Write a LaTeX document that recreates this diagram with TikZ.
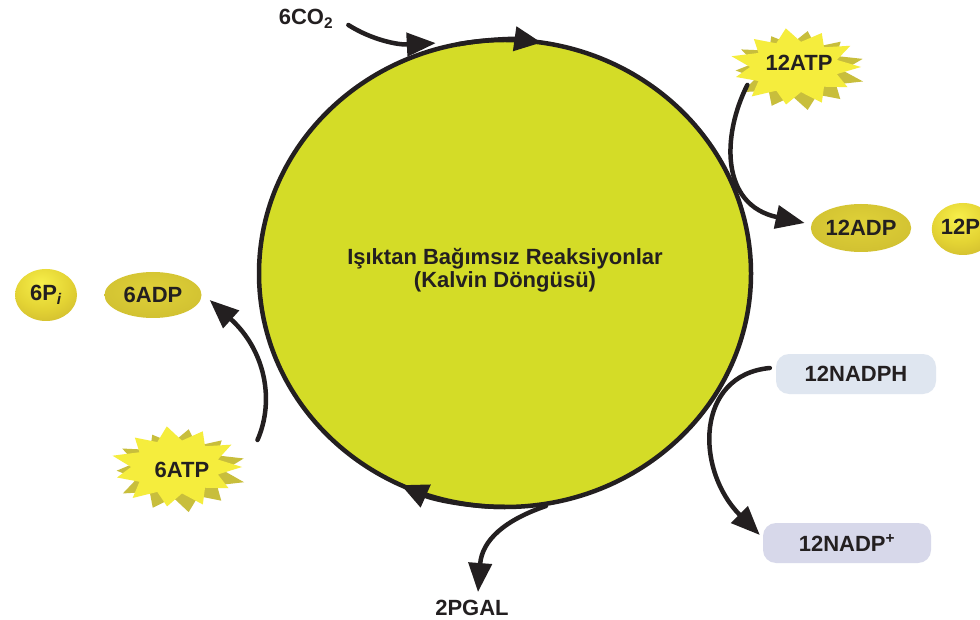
\documentclass[tikz,border=0pt]{standalone}
\usepackage{fontspec}
\setmainfont{Liberation Sans}
\usetikzlibrary{arrows.meta,shapes.geometric,calc}
\definecolor{ink}{HTML}{231F20}
\definecolor{cyclefill}{HTML}{D4DC27}
\definecolor{burstY}{HTML}{F5ED3D}
\definecolor{burstS}{HTML}{C8BE3C}
\definecolor{adpA}{HTML}{DFD138}
\definecolor{adpB}{HTML}{C2AF2A}
\definecolor{sphL}{HTML}{F7EF4A}
\definecolor{sphM}{HTML}{E4D434}
\definecolor{sphD}{HTML}{BDA42A}
\definecolor{nadphF}{HTML}{DFE6F0}
\definecolor{nadpF}{HTML}{D7D8EA}
\pgfdeclareradialshading{sphereshade}{\pgfpoint{-4bp}{12bp}}{color(0bp)=(sphL); color(22bp)=(sphM); color(52bp)=(sphD); color(90bp)=(sphD)}
\pgfdeclareradialshading{ovalshade}{\pgfpoint{0bp}{6bp}}{color(0bp)=(adpA); color(28bp)=(adpA!55!adpB); color(52bp)=(adpB); color(90bp)=(adpB)}
\def\burstpts{16/0.66, 33/0.95, 49/0.67, 66/1.0, 82/0.65, 98/0.97, 115/0.67, 131/1.0, 147/0.66, 164/0.93, 180/0.68, 196/1.0, 213/0.66, 229/0.95, 245/0.67, 262/1.0, 278/0.65, 295/0.96, 311/0.67, 327/1.0, 344/0.66}
\tikzset{
  lbl/.style={font=\fontsize{22}{23}\selectfont\bfseries, text=ink, inner sep=3pt},
  arr/.style={draw=ink, line width=4.5pt, line cap=round, -{Triangle[length=29pt,width=23pt]}},
  cyclearr/.style={draw=ink, line width=4.5pt, -{Triangle[length=27pt,width=24pt]}},
  oval/.style={lbl, ellipse, shading=ovalshade, minimum width=97pt, minimum height=48pt, inner sep=0pt},
  ballnode/.style={lbl, ellipse, shading=sphereshade, minimum width=62pt, minimum height=52pt, inner sep=0pt},
  nadbox/.style={lbl, rectangle, rounded corners=13pt, minimum height=40pt},
  burst/.pic={
    \fill[burstS, shift={(0.05,0.09)}, rotate=-16, scale=1.02] (0:1) \foreach \a/\r in \burstpts {-- (\a:\r)} -- cycle;
    \fill[burstY] (0:1) \foreach \a/\r in \burstpts {-- (\a:\r)} -- cycle;
  }
}
\begin{document}
\begin{tikzpicture}[x=1pt, y=-1pt]
\useasboundingbox (0,0) rectangle (980,620);
\clip (0,0) rectangle (980,620);
\fill[white] (0,0) rectangle (980,620);

% main cycle
\node[ellipse, draw=ink, line width=4.5pt, fill=cyclefill, minimum width=492pt, minimum height=467pt, inner sep=0pt] (calvin) at (505,273.5) {};
\node[lbl, align=center] (title) at (505,270) {Işıktan Bağımsız Reaksiyonlar\\(Kalvin Döngüsü)};
\draw[cyclearr] ($(calvin.center)+(101:246pt and 233.5pt)$) arc[start angle=101, end angle=81.5, x radius=246pt, y radius=233.5pt];
\draw[cyclearr] ($(calvin.center)+(-90:246pt and 233.5pt)$) arc[start angle=-90, end angle=-115, x radius=246pt, y radius=233.5pt];

% bursts
\pic[xscale=66, yscale=39] at (795,67) {burst};
\pic[xscale=66, yscale=41] at (176,467) {burst};

% nodes
\node[lbl] (co2) at (306,19) {6CO\textsubscript{2}};
\node[lbl] (atp12) at (799,63) {12ATP};
\node[lbl] (atp6) at (182,470) {6ATP};
\node[oval] (adp12) at (861,228) {12ADP};
\node[ballnode] (pi12) at (963,229) {12P\textsubscript{\textit{i}}};
\node[ballnode] (pi6) at (46,295) {6P\textsubscript{\textit{i}}};
\node[oval, minimum height=46pt] (adp6) at (153,295) {6ADP};
\node[nadbox, fill=nadphF, minimum width=160pt] (nadph) at (856,374) {12NADPH};
\node[nadbox, fill=nadpF, minimum width=168pt] (nadp) at (847,543) {12NADP\textsuperscript{+}};
\node[lbl] (pgal) at (472,608) {2PGAL};

% connectors
\draw[arr] ($(co2.east)+(12,6)$) .. controls (372,40) and (398,45) .. ($(calvin.107)+(0,-4)$);
\draw[arr] ($(atp12.south west)+(-15,11)$) .. controls (722,135) and (720,205) .. ($(adp12.west)+(-6,-5)$);
\draw[arr] ($(atp6.east)+(45,-30)$) .. controls (275,400) and (265,350) .. ($(adp6.east)+(8,5)$);
\draw[arr] ($(nadph.west)+(-6,-6)$) .. controls (695,375) and (695,470) .. ($(nadp.west)+(-3,-8)$);
\draw[arr] (calvin.-80) .. controls (505,520) and (482,540) .. ($(pgal.north)+(6,-5)$);
\end{tikzpicture}
\end{document}
